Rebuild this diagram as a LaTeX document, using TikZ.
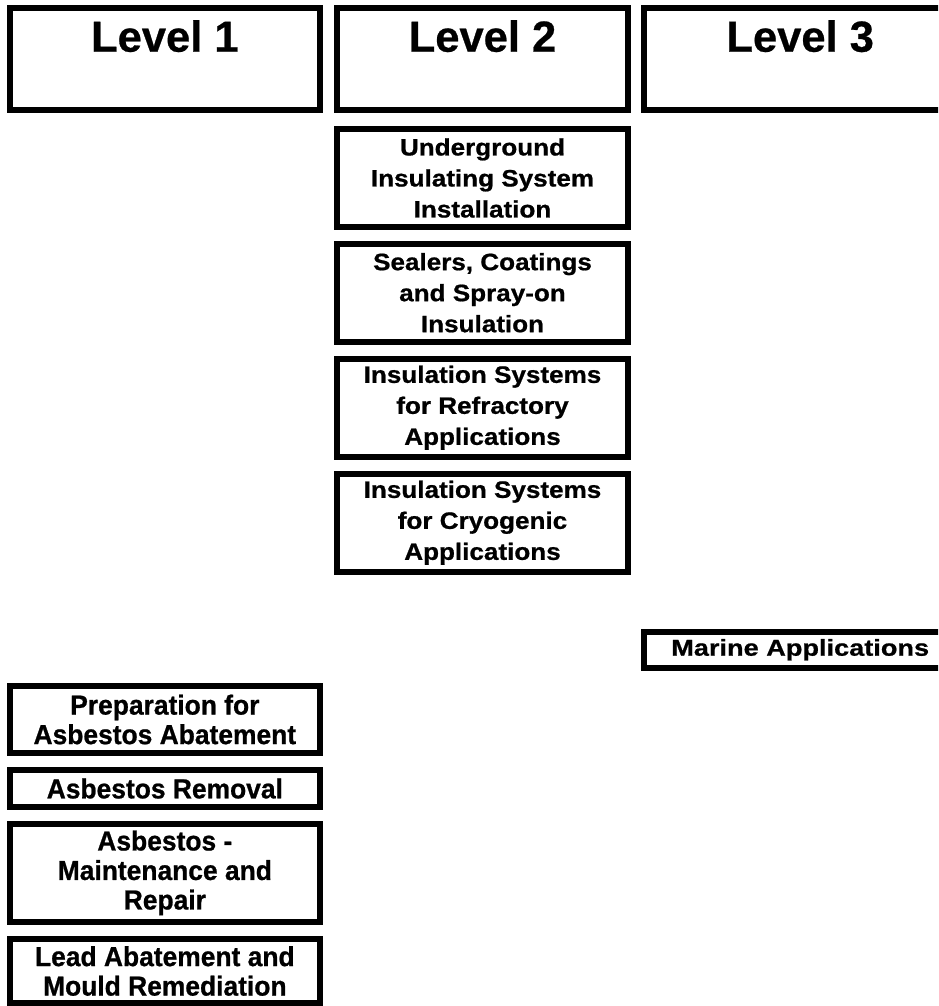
\documentclass[tikz,border=0pt]{standalone}
\usepackage{fontspec}
\newfontfamily\lvlfont[FakeBold=0.6]{Liberation Sans Bold}
\newfontfamily\midfont[FakeStretch=1.10,FakeBold=0.8]{Liberation Sans Bold}
\newfontfamily\leftfont[FakeStretch=0.96,FakeBold=0.8]{Liberation Sans Bold}
\newfontfamily\marfont[FakeStretch=1.18,FakeBold=0.8]{Liberation Sans Bold}
\begin{document}
\begin{tikzpicture}[x=1pt,y=-1pt,
  frame/.style={draw=black, line width=6pt, inner sep=0pt, outer sep=0pt, anchor=north west},
  levelbox/.style={frame, minimum width=#1, text height=43.7pt, text depth=58.3pt,
    font=\lvlfont\fontsize{43.5}{50}\selectfont},
  midbox/.style={frame, align=center, minimum width=291pt, minimum height=98pt,
    font=\midfont\fontsize{23.7}{31}\selectfont},
  leftbox/.style={frame, align=center, minimum width=309.7pt, minimum height=#1,
    font=\leftfont\fontsize{27.5}{29.5}\selectfont},
  marbox/.style={frame, minimum width=313pt, minimum height=35.5pt,
    font=\marfont\fontsize{23}{27}\selectfont}
]
\useasboundingbox (0,0) rectangle (938,1006);
\clip (0,0) rectangle (938,1006);
% header row
\node[levelbox=309.7pt] (l1) at (10,8) {Level 1};
\node[levelbox=291pt] (l2) at (337,8) {Level 2};
\node[levelbox=313pt] (l3) at (643.7,8) {Level 3};
% level 2 column
\node[midbox] (ug) at (337,129) {Underground\\Insulating System\\Installation};
\node[midbox] (sc) at (337,243.7) {Sealers, Coatings\\and Spray-on\\Insulation};
\node[midbox] (rf) at (337,358.7) {Insulation Systems\\for Refractory\\Applications};
\node[midbox] (cr) at (337,473.7) {Insulation Systems\\for Cryogenic\\Applications};
% level 3 column
\node[marbox] (ma) at (643.7,632) {Marine Applications};
% level 1 column
\node[leftbox=67pt] (pa) at (10,686) {Preparation for\\Asbestos Abatement};
\node[leftbox=37.6pt] (ar) at (10,769.7) {Asbestos Removal};
\node[leftbox=97.7pt] (am) at (10,824) {Asbestos -\\Maintenance and\\Repair};
\node[leftbox=64pt] (la) at (10,939) {Lead Abatement and\\Mould Remediation};
\end{tikzpicture}
\end{document}
